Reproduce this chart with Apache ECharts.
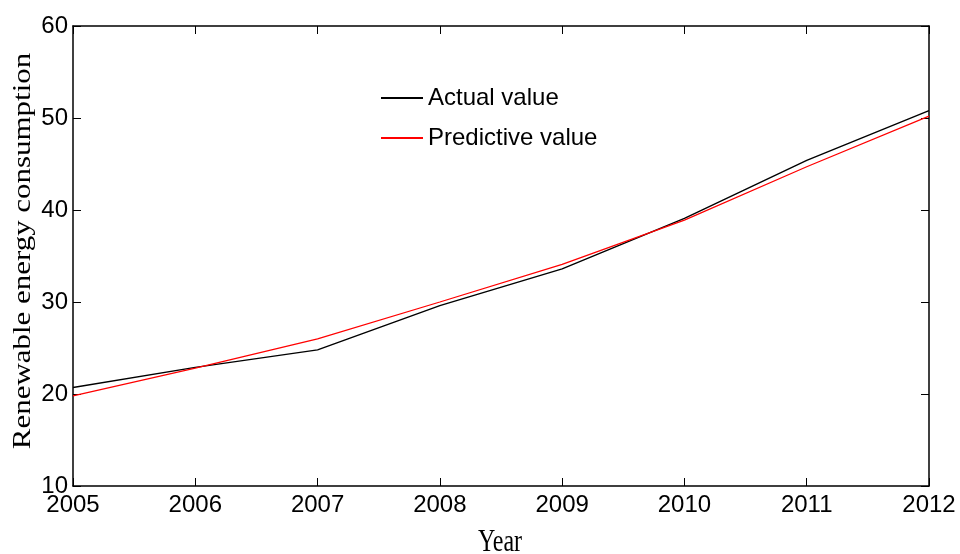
<!DOCTYPE html>
<html>
<head>
<meta charset="utf-8">
<script src="https://cdn.jsdelivr.net/npm/echarts@6/dist/echarts.min.js"></script>
<style>
  html, body { margin: 0; padding: 0; background: #fff; }
  #chart { width: 960px; height: 554px; }
</style>
</head>
<body>
<div id="chart"></div>
<script>
// Renewable energy consumption, actual vs. predicted
const years = ['2005', '2006', '2007', '2008', '2009', '2010', '2011', '2012'];
const actualValue = [20.7, 22.9, 24.8, 29.6, 33.6, 39.1, 45.4, 50.8];
const predictiveValue = [19.8, 22.8, 26.0, 30.0, 34.1, 38.9, 44.7, 50.2];
const yTicks = { min: 10, max: 60, interval: 10 };

const labelFont = "'Liberation Sans', Arial, sans-serif";
const titleFont = "'Liberation Serif', 'DejaVu Serif', serif";

const chart = echarts.init(document.getElementById('chart'), null, { renderer: 'canvas' });

const frameLine = { show: true, lineStyle: { color: '#000', width: 1.5 } };
const innerTick = { show: true, inside: true, length: 8, lineStyle: { color: '#000', width: 1 } };

chart.setOption({
  animation: false,
  backgroundColor: '#fff',
  grid: { left: 73, right: 31, top: 26, bottom: 68, containLabel: false },
  legend: {
    orient: 'vertical',
    left: 375,
    top: 81,
    itemWidth: 42,
    itemHeight: 10,
    itemGap: 16,
    itemStyle: { opacity: 0 },
    textStyle: { fontFamily: labelFont, fontSize: 24, color: '#000', padding: [0, 0, 0, 0] },
    data: ['Actual value', 'Predictive value']
  },
  xAxis: [
    {
      type: 'category',
      data: years,
      boundaryGap: false,
      position: 'bottom',
      axisLine: frameLine,
      axisTick: Object.assign({ alignWithLabel: true }, innerTick),
      axisLabel: {
        fontFamily: labelFont, fontSize: 24, color: '#000', margin: 7,
        showMinLabel: true, showMaxLabel: true, interval: 0
      },
      splitLine: { show: false }
    },
    {
      type: 'category',
      data: years,
      boundaryGap: false,
      position: 'top',
      axisLine: frameLine,
      axisTick: Object.assign({ alignWithLabel: true }, innerTick),
      axisLabel: { show: false },
      splitLine: { show: false }
    }
  ],
  yAxis: [
    {
      type: 'value',
      min: yTicks.min, max: yTicks.max, interval: yTicks.interval,
      position: 'left',
      axisLine: frameLine,
      axisTick: innerTick,
      axisLabel: { fontFamily: labelFont, fontSize: 24, color: '#000', margin: 5 },
      splitLine: { show: false }
    },
    {
      type: 'value',
      min: yTicks.min, max: yTicks.max, interval: yTicks.interval,
      position: 'right',
      axisLine: frameLine,
      axisTick: innerTick,
      axisLabel: { show: false },
      splitLine: { show: false }
    }
  ],
  graphic: [
    {
      type: 'text',
      x: 23, y: 251,
      rotation: Math.PI / 2,
      scaleX: 1.19,
      style: {
        text: 'Renewable energy consumption',
        font: "26px " + titleFont,
        fill: '#000',
        align: 'center',
        verticalAlign: 'middle'
      }
    },
    {
      type: 'text',
      x: 500, y: 543,
      scaleY: 1.3,
      style: {
        text: 'Year',
        font: "24px " + titleFont,
        fill: '#000',
        align: 'center',
        verticalAlign: 'middle'
      }
    }
  ],
  series: [
    {
      name: 'Actual value',
      type: 'line',
      data: actualValue,
      symbol: 'none',
      lineStyle: { color: '#000', width: 1.4 },
      itemStyle: { color: '#000' }
    },
    {
      name: 'Predictive value',
      type: 'line',
      data: predictiveValue,
      symbol: 'none',
      lineStyle: { color: '#ff0000', width: 1.3 },
      itemStyle: { color: '#ff0000' }
    }
  ]
});
</script>
</body>
</html>
